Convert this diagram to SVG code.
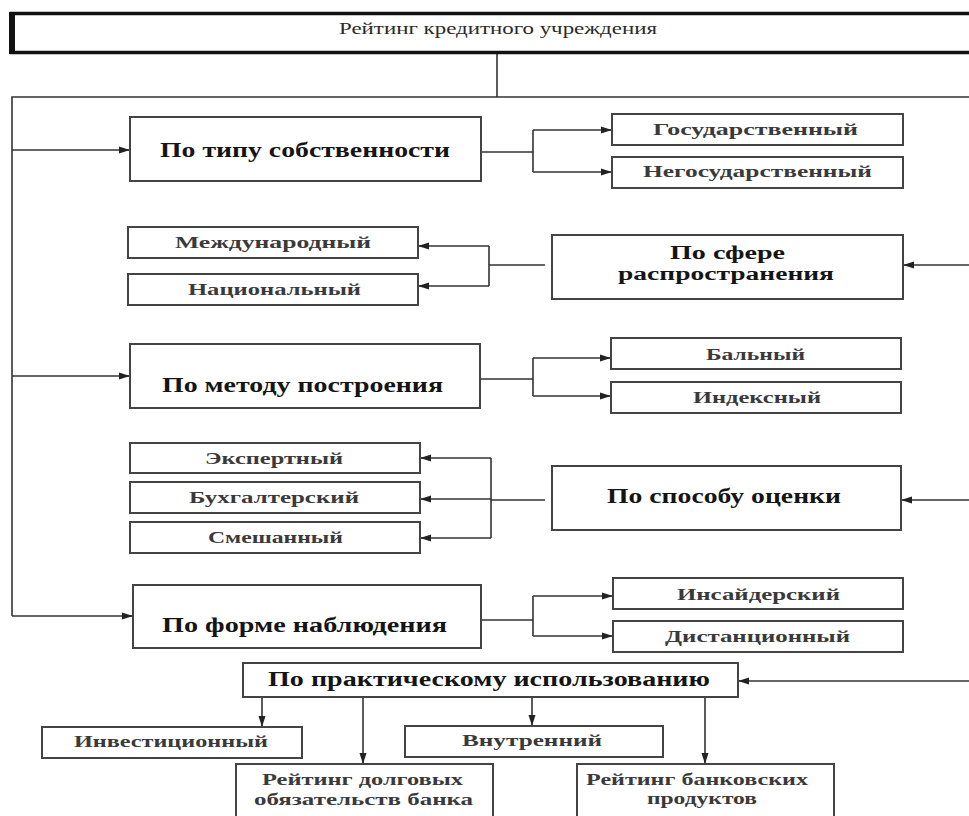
<svg xmlns="http://www.w3.org/2000/svg" width="969" height="816" viewBox="0 0 969 816">
  <style>
    .box { fill: #fff; stroke: #444; stroke-width: 2; }
    .cat { font-family: "Liberation Serif", "DejaVu Serif", serif; font-weight: bold; font-size: 20px; fill: #151515; }
    .cat2 { font-family: "Liberation Serif", "DejaVu Serif", serif; font-weight: bold; font-size: 18px; fill: #151515; }
    .leaf { font-family: "Liberation Serif", "DejaVu Serif", serif; font-weight: bold; font-size: 17px; fill: #3a3a3a; }
    .title { font-family: "Liberation Serif", "DejaVu Serif", serif; font-size: 16px; fill: #2a2a2a; }
    .wire { fill: none; stroke: #333; stroke-width: 1.6; }
    .arr { fill: none; stroke: #333; stroke-width: 1.6; marker-end: url(#tip); }
  </style>
  <defs>
    <marker id="tip" markerUnits="userSpaceOnUse" markerWidth="11" markerHeight="8" refX="11" refY="4" orient="auto">
      <path d="M0,0.5 L11,4 L0,7.5 z" fill="#222"/>
    </marker>
  </defs>
  <rect width="969" height="816" fill="#fff"/>

  <!-- connectors -->
  <g id="connectors">
    <path class="wire" d="M497,54 V97"/>
    <path class="wire" d="M975,97 H12 V616"/>
    <path class="arr" d="M12,150 H130"/>
    <path class="arr" d="M12,376 H130"/>
    <path class="arr" d="M12,616 H133"/>
    <path class="wire" d="M975,265 V681"/>
    <path class="arr" d="M975,265 H903"/>
    <path class="arr" d="M975,500 H901"/>
    <path class="arr" d="M975,681 H738"/>

    <path class="wire" d="M481,152 H533 M533,130 V172"/>
    <path class="arr" d="M533,130 H612"/>
    <path class="arr" d="M533,172 H612"/>

    <path class="wire" d="M545,265 H489 M489,246 V286"/>
    <path class="arr" d="M489,246 H418"/>
    <path class="arr" d="M489,286 H418"/>

    <path class="wire" d="M480,379 H533 M533,358 V396"/>
    <path class="arr" d="M533,358 H611"/>
    <path class="arr" d="M533,396 H611"/>

    <path class="wire" d="M545,500 H491 M491,458 V538"/>
    <path class="arr" d="M491,458 H420"/>
    <path class="arr" d="M491,499 H420"/>
    <path class="arr" d="M491,538 H420"/>

    <path class="wire" d="M481,620 H533 M533,596 V636"/>
    <path class="arr" d="M533,596 H613"/>
    <path class="arr" d="M533,636 H613"/>

    <path class="arr" d="M262,697 V727"/>
    <path class="arr" d="M363,697 V764"/>
    <path class="arr" d="M532,697 V726"/>
    <path class="arr" d="M705,697 V764"/>
  </g>

  <!-- root -->
  <g id="root">
    <rect x="11.5" y="13.5" width="970" height="39" fill="#fff" stroke="#111" stroke-width="3.5"/>
    <rect x="9" y="12" width="6" height="42" fill="#111"/>
    <text class="title" x="339" y="34" textLength="318" lengthAdjust="spacingAndGlyphs">Рейтинг кредитного учреждения</text>
  </g>

  <!-- ownership -->
  <g id="ownership">
    <rect class="box" x="130" y="117" width="351" height="64"/>
    <text class="cat" x="160" y="157" textLength="290" lengthAdjust="spacingAndGlyphs">По типу собственности</text>
  </g>
  <g id="state">
    <rect class="box" x="612" y="114" width="291" height="31"/>
    <text class="leaf" x="653" y="135" textLength="205" lengthAdjust="spacingAndGlyphs">Государственный</text>
  </g>
  <g id="nonstate">
    <rect class="box" x="612" y="157" width="291" height="31"/>
    <text class="leaf" x="643" y="177" textLength="229" lengthAdjust="spacingAndGlyphs">Негосударственный</text>
  </g>

  <!-- scope -->
  <g id="scope">
    <rect class="box" x="552" y="235" width="351" height="64"/>
    <text class="cat2" x="670" y="259" textLength="115" lengthAdjust="spacingAndGlyphs">По сфере</text>
    <text class="cat2" x="618" y="280" textLength="216" lengthAdjust="spacingAndGlyphs">распространения</text>
  </g>
  <g id="international">
    <rect class="box" x="128" y="227" width="290" height="31"/>
    <text class="leaf" x="175" y="248" textLength="196" lengthAdjust="spacingAndGlyphs">Международный</text>
  </g>
  <g id="national">
    <rect class="box" x="128" y="274" width="290" height="31"/>
    <text class="leaf" x="188" y="295" textLength="173" lengthAdjust="spacingAndGlyphs">Национальный</text>
  </g>

  <!-- construction method -->
  <g id="method">
    <rect class="box" x="130" y="344" width="350" height="64"/>
    <text class="cat" x="162" y="392" textLength="281" lengthAdjust="spacingAndGlyphs">По методу построения</text>
  </g>
  <g id="points">
    <rect class="box" x="611" y="338" width="290" height="31"/>
    <text class="leaf" x="706" y="360" textLength="99" lengthAdjust="spacingAndGlyphs">Бальный</text>
  </g>
  <g id="index">
    <rect class="box" x="611" y="382" width="290" height="31"/>
    <text class="leaf" x="693" y="403" textLength="128" lengthAdjust="spacingAndGlyphs">Индексный</text>
  </g>

  <!-- assessment -->
  <g id="assessment">
    <rect class="box" x="552" y="466" width="349" height="64"/>
    <text class="cat" x="607" y="503" textLength="234" lengthAdjust="spacingAndGlyphs">По способу оценки</text>
  </g>
  <g id="expert">
    <rect class="box" x="130" y="443" width="290" height="30"/>
    <text class="leaf" x="205" y="464" textLength="138" lengthAdjust="spacingAndGlyphs">Экспертный</text>
  </g>
  <g id="accounting">
    <rect class="box" x="130" y="482" width="290" height="31"/>
    <text class="leaf" x="189" y="503" textLength="170" lengthAdjust="spacingAndGlyphs">Бухгалтерский</text>
  </g>
  <g id="mixed">
    <rect class="box" x="130" y="522" width="290" height="31"/>
    <text class="leaf" x="208" y="543" textLength="135" lengthAdjust="spacingAndGlyphs">Смешанный</text>
  </g>

  <!-- observation -->
  <g id="observation">
    <rect class="box" x="133" y="585" width="348" height="63"/>
    <text class="cat" x="162" y="632" textLength="285" lengthAdjust="spacingAndGlyphs">По форме наблюдения</text>
  </g>
  <g id="insider">
    <rect class="box" x="613" y="578" width="290" height="31"/>
    <text class="leaf" x="677" y="600" textLength="163" lengthAdjust="spacingAndGlyphs">Инсайдерский</text>
  </g>
  <g id="remote">
    <rect class="box" x="613" y="621" width="290" height="31"/>
    <text class="leaf" x="665" y="642" textLength="185" lengthAdjust="spacingAndGlyphs">Дистанционный</text>
  </g>

  <!-- practical use -->
  <g id="practical">
    <rect class="box" x="243" y="663" width="495" height="34"/>
    <text class="cat" x="268" y="686" textLength="442" lengthAdjust="spacingAndGlyphs">По практическому использованию</text>
  </g>
  <g id="investment">
    <rect class="box" x="42" y="727" width="260" height="31"/>
    <text class="leaf" x="74" y="747" textLength="194" lengthAdjust="spacingAndGlyphs">Инвестиционный</text>
  </g>
  <g id="internal">
    <rect class="box" x="405" y="726" width="258" height="31"/>
    <text class="leaf" x="462" y="746" textLength="140" lengthAdjust="spacingAndGlyphs">Внутренний</text>
  </g>
  <g id="debt">
    <rect class="box" x="236" y="764" width="257" height="60"/>
    <text class="leaf" x="262" y="785" textLength="201" lengthAdjust="spacingAndGlyphs">Рейтинг долговых</text>
    <text class="leaf" x="254" y="805" textLength="219" lengthAdjust="spacingAndGlyphs">обязательств банка</text>
  </g>
  <g id="products">
    <rect class="box" x="577" y="764" width="257" height="60"/>
    <text class="leaf" x="586" y="785" textLength="222" lengthAdjust="spacingAndGlyphs">Рейтинг банковских</text>
    <text class="leaf" x="647" y="804" textLength="110" lengthAdjust="spacingAndGlyphs">продуктов</text>
  </g>
</svg>
